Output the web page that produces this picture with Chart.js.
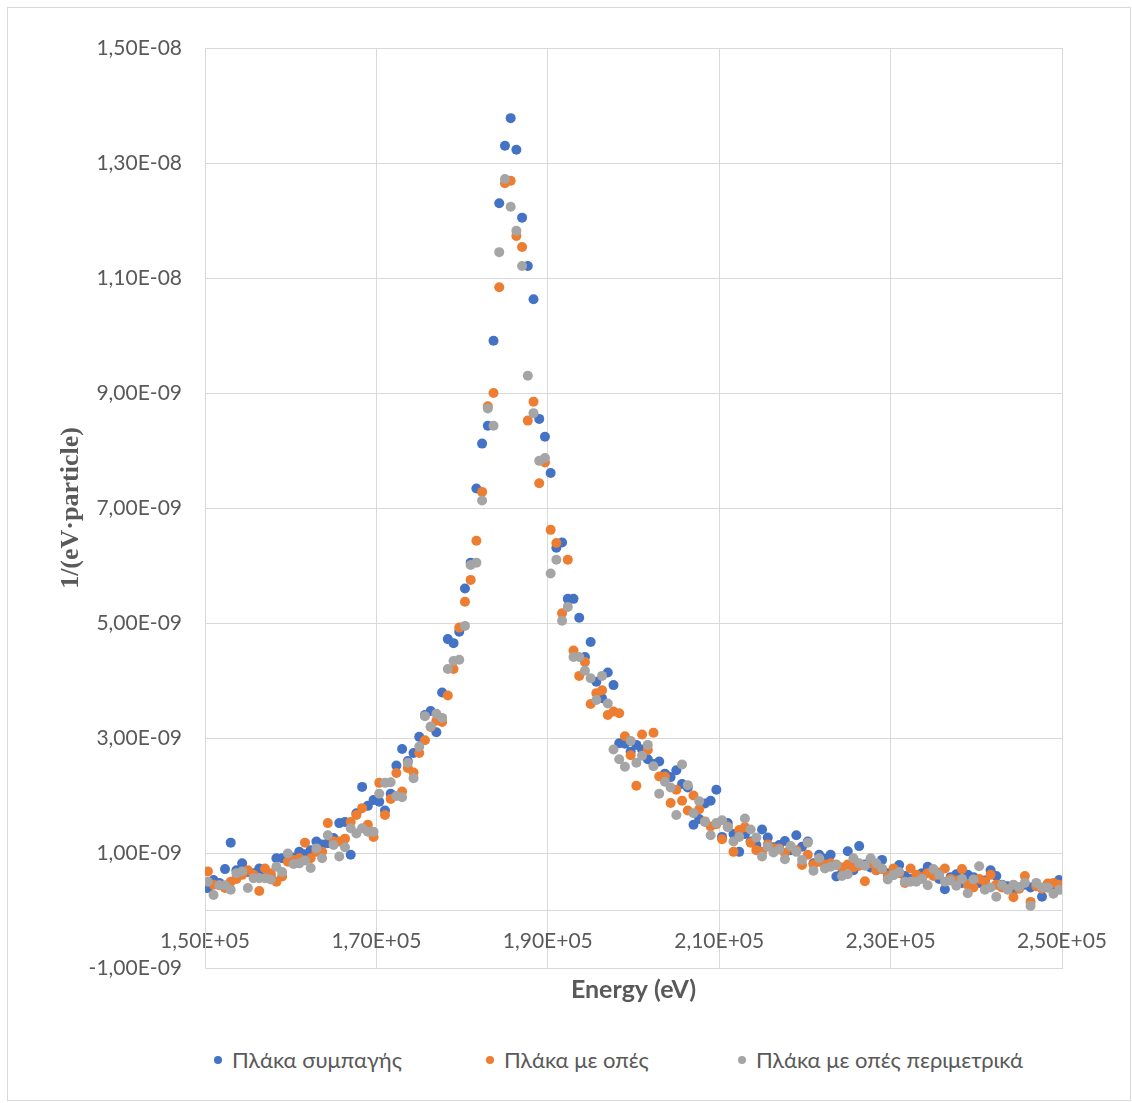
<!DOCTYPE html>
<html>
<head>
<meta charset="utf-8">
<script src="https://cdn.jsdelivr.net/npm/chart.js@4"></script>
<style>
  html, body { margin: 0; padding: 0; background: #fff; }
  #wrap { position: relative; width: 1132px; height: 1103px; background: #fff; }
  #frame { position: absolute; left: 7px; top: 7px; width: 1122px; height: 1092px;
           border: 1px solid #d9d9d9; pointer-events: none; }
  #pnl { position: absolute; left: 0; top: 0; }
  .leg { position: absolute; top: 1045px; font: 22px Lato, "Open Sans", sans-serif; color: #595959;
         white-space: nowrap; line-height: 30px; }
  .leg i { display: inline-block; width: 8px; height: 8px; border-radius: 50%; margin-right: 10px;
           vertical-align: middle; position: relative; top: -2px; }
</style>
</head>
<body>
<div id="wrap">
  <canvas id="pnl" width="1132" height="1020"></canvas>
  <div id="legend"></div>
  <div id="frame"></div>
</div>
<script>
// energy bin centres (eV)
const energy = [
  150333,151000,151667,152333,153000,153667,154333,155000,155667,156333,157000,157667,
  158333,159000,159667,160333,161000,161667,162333,163000,163667,164333,165000,165667,
  166333,167000,167667,168333,169000,169667,170333,171000,171667,172333,173000,173667,
  174333,175000,175667,176333,177000,177667,178333,179000,179667,180333,181000,181667,
  182333,183000,183667,184333,185000,185667,186333,187000,187667,188333,189000,189667,
  190333,191000,191667,192333,193000,193667,194333,195000,195667,196333,197000,197667,
  198333,199000,199667,200333,201000,201667,202333,203000,203667,204333,205000,205667,
  206333,207000,207667,208333,209000,209667,210333,211000,211667,212333,213000,213667,
  214333,215000,215667,216333,217000,217667,218333,219000,219667,220333,221000,221667,
  222333,223000,223667,224333,225000,225667,226333,227000,227667,228333,229000,229667,
  230333,231000,231667,232333,233000,233667,234333,235000,235667,236333,237000,237667,
  238333,239000,239667,240333,241000,241667,242333,243000,243667,244333,245000,245667,
  246333,247000,247667,248333,249000,249667
];

// values in units of 1E-09 per eV per particle
const solidPlate = [
  0.39,0.53,0.48,0.72,1.18,0.70,0.82,0.67,0.65,0.73,
  0.62,0.60,0.91,0.91,0.95,0.92,1.02,0.98,1.05,1.20,
  1.15,1.17,1.26,1.52,1.54,0.97,1.69,2.15,1.82,1.92,
  1.89,1.74,2.03,2.52,2.81,2.60,2.74,3.02,3.40,3.47,
  3.10,3.79,4.72,4.65,4.85,5.60,6.05,7.34,8.12,8.43,
  9.91,12.30,13.30,13.78,13.23,12.05,11.21,10.63,8.55,8.24,
  7.61,6.31,6.40,5.42,5.42,5.09,4.41,4.67,3.98,3.69,
  4.14,3.92,2.91,2.90,2.76,2.88,2.80,2.63,2.55,2.59,
  2.38,2.32,2.44,2.20,2.14,1.49,1.59,1.86,1.91,2.10,
  1.28,1.52,1.33,1.02,1.33,1.20,1.14,1.41,1.27,1.10,
  1.14,1.21,1.05,1.31,1.11,1.20,0.82,0.97,0.90,0.97,
  0.59,0.65,1.03,0.70,1.12,0.80,0.75,0.70,0.88,0.65,
  0.62,0.79,0.60,0.55,0.58,0.65,0.76,0.62,0.55,0.37,
  0.58,0.63,0.48,0.62,0.58,0.48,0.52,0.70,0.60,0.45,
  0.42,0.35,0.40,0.45,0.40,0.45,0.24,0.40,0.45,0.53
];
const holesPlate = [
  0.68,0.45,0.44,0.39,0.50,0.55,0.62,0.70,0.62,0.34,
  0.73,0.65,0.50,0.59,0.85,0.88,0.91,1.18,0.91,1.02,
  1.02,1.52,1.20,1.20,1.25,1.54,1.66,1.78,1.49,1.28,
  2.22,1.66,1.94,2.39,2.07,2.48,2.40,2.74,2.96,3.19,
  3.30,3.28,3.74,4.20,4.92,5.37,5.75,6.43,7.28,8.77,
  9.00,10.84,12.65,12.69,11.73,11.54,8.52,8.85,7.43,7.79,
  6.62,6.39,5.17,6.10,4.52,4.08,4.32,3.59,3.78,3.83,
  3.40,3.46,3.43,3.03,2.70,2.17,3.06,2.79,3.09,2.33,
  2.33,1.87,2.10,1.91,1.74,2.00,1.76,1.55,1.46,1.50,
  1.24,1.46,1.02,1.40,1.45,1.18,1.05,1.02,1.15,1.08,
  1.08,1.00,1.10,1.05,0.79,0.97,0.80,0.85,0.80,0.82,
  0.80,0.75,0.80,0.75,0.78,0.51,0.82,0.70,0.72,0.60,
  0.73,0.65,0.48,0.73,0.62,0.58,0.65,0.60,0.66,0.73,
  0.55,0.52,0.72,0.45,0.40,0.55,0.50,0.62,0.45,0.40,
  0.38,0.23,0.38,0.60,0.15,0.42,0.38,0.47,0.48,0.45
];
const perimeterPlate = [
  0.50,0.27,0.44,0.44,0.36,0.65,0.68,0.39,0.56,0.56,
  0.56,0.54,0.76,0.67,0.99,0.81,0.82,0.87,0.74,1.08,
  0.91,1.31,1.14,0.94,1.10,1.43,1.34,1.43,1.37,1.37,
  2.03,2.22,2.23,1.99,1.97,2.57,2.30,2.85,3.38,3.20,
  3.42,3.35,4.20,4.34,4.36,4.95,6.01,6.05,7.13,8.73,
  8.43,11.45,12.72,12.24,11.82,11.21,9.30,8.65,7.82,7.87,
  5.86,6.10,5.04,5.28,4.41,4.41,4.17,4.04,3.66,4.08,
  3.60,2.80,2.63,2.50,2.95,2.57,2.69,2.88,2.51,2.03,
  2.24,2.14,1.66,2.54,2.18,1.69,1.90,1.54,1.31,1.52,
  1.57,1.45,1.20,1.28,1.60,1.41,1.27,0.94,1.11,1.01,
  1.06,0.89,1.12,1.02,0.88,1.18,0.69,0.91,0.73,0.76,
  0.79,0.60,0.63,0.91,0.82,0.78,0.91,0.82,0.73,0.54,
  0.62,0.67,0.50,0.50,0.50,0.55,0.44,0.72,0.62,0.50,
  0.52,0.43,0.55,0.30,0.54,0.77,0.36,0.40,0.24,0.44,
  0.36,0.45,0.41,0.48,0.08,0.48,0.40,0.40,0.29,0.36
];

const seriesNames = ['Πλάκα συμπαγής', 'Πλάκα με οπές', 'Πλάκα με οπές περιμετρικά'];
const seriesColors = ['#4472C4', '#ED7D31', '#A5A5A5'];
const xTicks = [150000, 170000, 190000, 210000, 230000, 250000];
const yTicks = [-1, 1, 3, 5, 7, 9, 11, 13, 15]; // x 1E-09
const legendLeft = [214, 486, 738];

const FONT = 'Lato, "Open Sans", sans-serif';
const GRID = '#d9d9d9';
const TEXT = '#595959';

// Excel style scientific label: 1,50E-08
function excelExp(v) {
  const parts = v.toExponential(2).split('e');
  const ex = parseInt(parts[1], 10);
  return parts[0].replace('.', ',') + 'E' + (ex < 0 ? '-' : '+') + String(Math.abs(ex)).padStart(2, '0');
}

function toPoints(values) {
  return values.map((v, i) => ({ x: energy[i], y: v }));
}

const allSeries = [solidPlate, holesPlate, perimeterPlate];

const datasets = allSeries.map((vals, k) => ({
  label: seriesNames[k],
  data: toPoints(vals),
  backgroundColor: seriesColors[k],
  borderWidth: 0,
  pointRadius: 5,
  pointHoverRadius: 5,
  order: 3 - k, // later series drawn on top, like Excel
}));

// HTML legend
const legendDiv = document.getElementById('legend');
seriesNames.forEach((name, k) => {
  const item = document.createElement('div');
  item.className = 'leg';
  item.style.left = legendLeft[k] + 'px';
  item.innerHTML = '<i style="background:' + seriesColors[k] + '"></i>' + name;
  legendDiv.appendChild(item);
});

new Chart(document.getElementById('pnl'), {
  type: 'scatter',
  data: { datasets },
  options: {
    responsive: false,
    animation: false,
    devicePixelRatio: 1,
    layout: { padding: { top: 48, right: 70, bottom: 0, left: 0 } },
    plugins: {
      legend: { display: false },
      tooltip: { enabled: false },
    },
    scales: {
      x: {
        type: 'linear',
        position: 'bottom',
        min: 150000,
        max: 250000,
        afterBuildTicks: s => { s.ticks = xTicks.map(v => ({ value: v })); },
        afterFit: s => { s.height = 52; },
        grid: { color: GRID, lineWidth: 1, drawTicks: false },
        border: { display: true, color: GRID },
        ticks: { display: false },
        title: {
          display: true,
          text: 'Energy (eV)',
          color: TEXT,
          font: { family: FONT, size: 25, weight: 'bold' },
          padding: { top: 0, bottom: 15 },
        },
      },
      x0: {
        axis: 'x',
        type: 'linear',
        position: { y: 0 },
        min: 150000,
        max: 250000,
        afterBuildTicks: s => { s.ticks = xTicks.map(v => ({ value: v })); },
        grid: { display: false, drawTicks: false },
        border: { display: true, color: GRID },
        ticks: {
          color: TEXT,
          font: { family: FONT, size: 21 },
          padding: 18,
          maxRotation: 0,
          callback: v => excelExp(v),
        },
      },
      y: {
        type: 'linear',
        min: -1,
        max: 15,
        afterBuildTicks: s => { s.ticks = yTicks.map(v => ({ value: v })); },
        afterFit: s => { s.width = 205; },
        grid: { color: GRID, lineWidth: 1, drawTicks: false },
        border: { display: true, color: GRID },
        ticks: {
          color: TEXT,
          font: { family: FONT, size: 21 },
          padding: 23,
          callback: v => excelExp(v * 1e-9),
        },
        title: {
          display: true,
          text: '1/(eV·particle)',
          color: TEXT,
          font: { family: '"Liberation Serif", "DejaVu Serif", serif', size: 26, weight: 'bold' },
          padding: { top: 56, bottom: 0 },
        },
      },
    },
  },
});
</script>
</body>
</html>
